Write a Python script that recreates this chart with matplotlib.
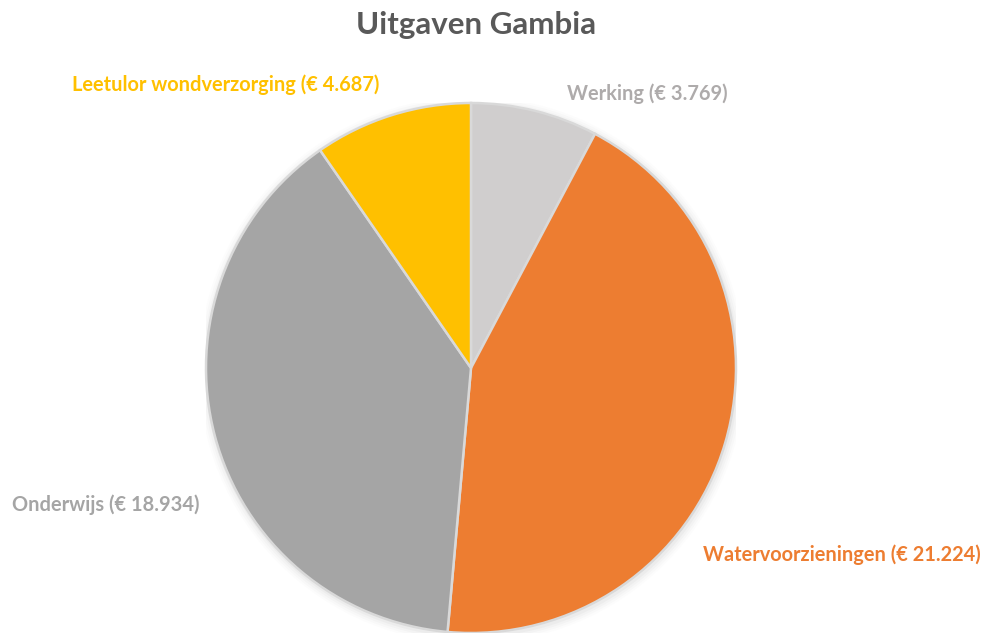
import matplotlib.pyplot as plt
from matplotlib.patches import Circle

# Data
categories = ['Werking', 'Watervoorzieningen', 'Onderwijs', 'Leetulor wondverzorging']
values = [3769, 21224, 18934, 4687]
value_labels = ['€ 3.769', '€ 21.224', '€ 18.934', '€ 4.687']

slice_colors = ['#D0CECE', '#ED7D31', '#A5A5A5', '#FFC000']
label_colors = ['#AEABAB', '#ED7D31', '#A5A5A5', '#FFC000']

W, H = 984, 633
fig = plt.figure(figsize=(W / 100, H / 100), dpi=100)

# pie centre and radius in pixels
cx, cy, r = 471, 368, 265
ax = fig.add_axes([(cx - r) / W, (H - cy - r) / H, 2 * r / W, 2 * r / H])

# soft shadow behind the pie
for i, a in enumerate([0.05, 0.04, 0.03, 0.02]):
    ax.add_patch(Circle((0.004, -0.008), 1.0 + 0.008 * (i + 1), color='#808080',
                        alpha=a, lw=0, zorder=0))

wedges, _ = ax.pie(values, colors=slice_colors, startangle=90, counterclock=False,
                   wedgeprops=dict(edgecolor='#D9D9D9', linewidth=1.8))
for w in wedges:
    w.set_zorder(2)

ax.set_xlim(-1, 1)
ax.set_ylim(-1, 1)
ax.set_aspect('equal')
ax.axis('off')

font = 'Lato'

fig.text(476 / W, 1 - 25 / H, 'Uitgaven Gambia', ha='center', va='center',
         fontsize=22.5, fontweight='bold', color='#595959', family=font)

# label anchors (left x, centre y) in pixels
label_pos = [(567, 94), (703, 555), (12, 505), (72, 85)]
for cat, val, col, (lx, ly) in zip(categories, value_labels, label_colors, label_pos):
    fig.text(lx / W, 1 - ly / H, f'{cat} ({val})', ha='left', va='center',
             fontsize=14.4, fontweight='bold', color=col, family=font)

fig.savefig('out.png', dpi=100, facecolor='white')
